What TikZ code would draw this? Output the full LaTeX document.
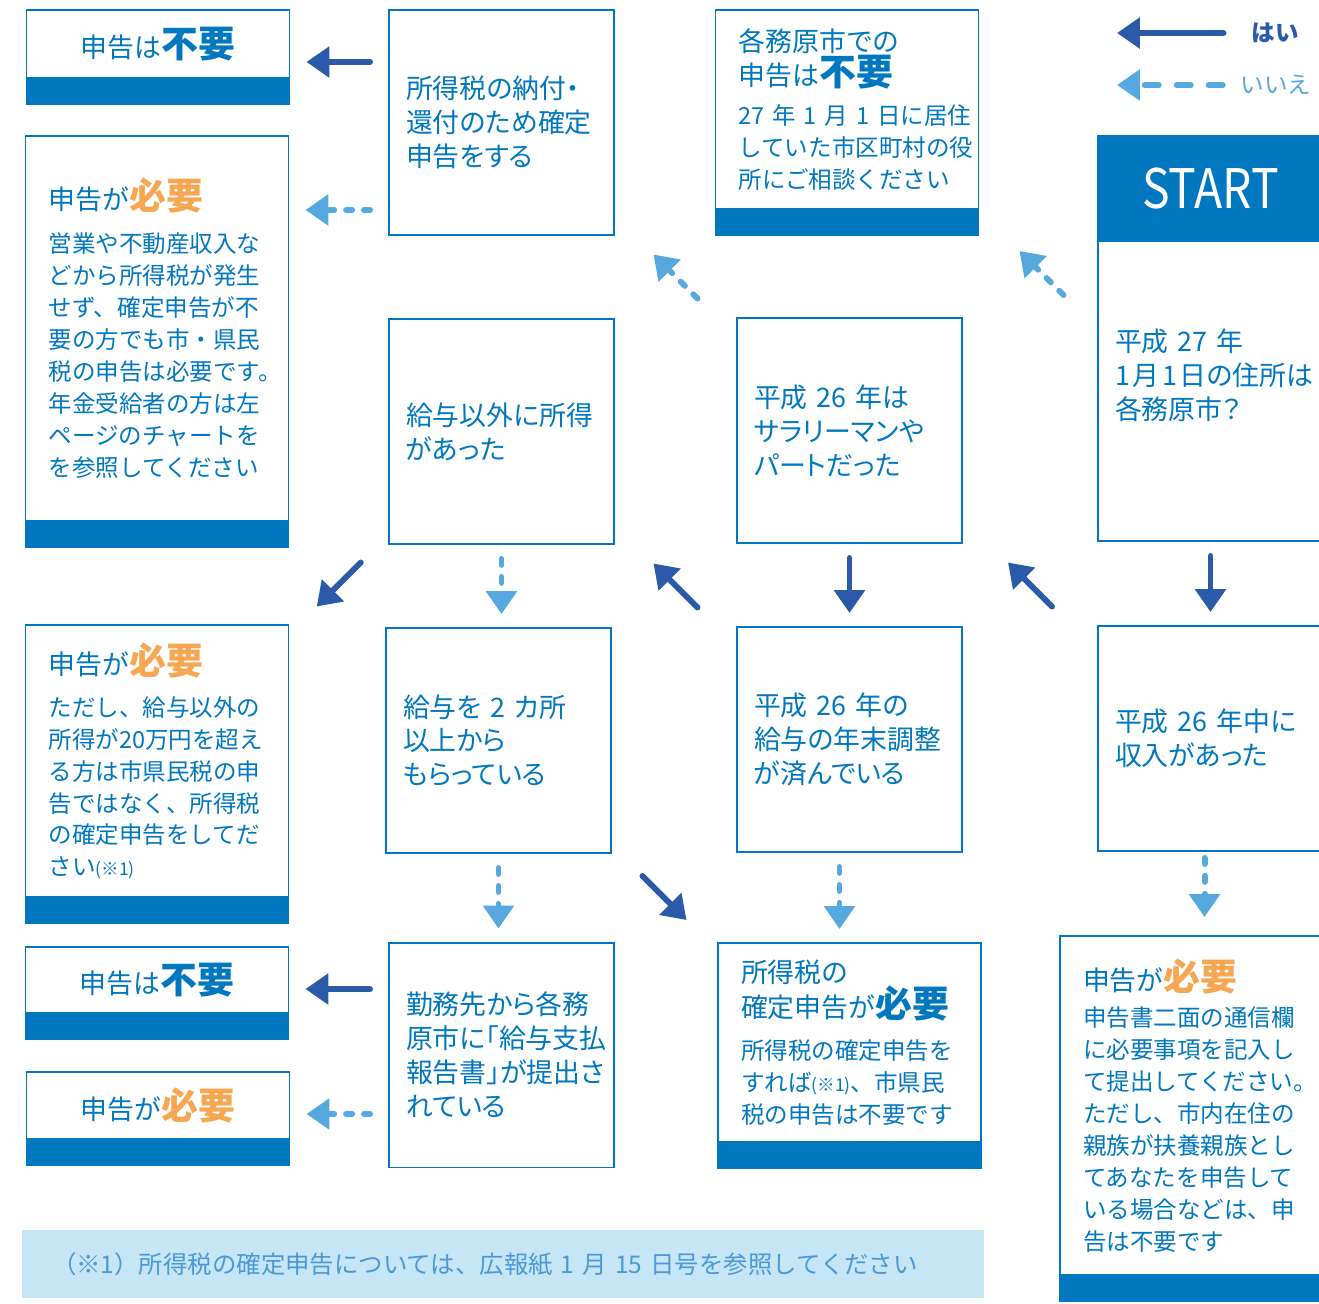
\documentclass[tikz,border=0pt]{standalone}
\usepackage{fontspec}
\setmainfont{Noto Sans CJK JP}[RawFeature=+palt]
\newfontfamily\kgfull{Noto Sans CJK JP}
\usetikzlibrary{arrows.meta,positioning,calc}
\definecolor{kgblue}{HTML}{0077BE}
\definecolor{kgnavy}{HTML}{2B5BA8}
\definecolor{kgsky}{HTML}{56A9DF}
\definecolor{kgorange}{HTML}{F7A752}
\definecolor{kgpale}{HTML}{C6E6F6}
\definecolor{kgnote}{HTML}{4A98D6}
\newcommand{\kgq}{\fontsize{15.3}{19.3}\selectfont}
\newcommand{\kgs}{\kgfull\fontsize{13.4}{18.2}\selectfont}
\newcommand{\kgh}{\kgfull\fontsize{15.3}{18.2}\selectfont}
\newcommand{\kgbig}{\kgfull\fontsize{21}{18.2}\selectfont\bfseries}
\newcommand{\kgref}{{\fontsize{10}{10}\selectfont (※1)}}

\begin{document}
\begin{tikzpicture}[
    x=0.02cm, y=-0.02cm,
    every node/.style={text=kgblue, inner sep=0pt, outer sep=0pt},
    qbox/.style={draw=kgblue, line width=1.1pt, minimum width=4.5cm,
                 minimum height=4.5cm, text width=3.82cm, inner xsep=0.34cm,
                 align=left, font=\kgq},
    res/.style={draw=kgblue, line width=1.1pt, minimum width=5.26cm,
                text width=4.34cm, inner xsep=0.46cm, align=left, font=\kgs},
    resbar/.style={fill=kgblue, draw=kgblue, line width=1.1pt,
                   minimum width=5.26cm, minimum height=0.52cm},
    yes/.style={-{Triangle[width=17pt,length=13pt]}, line width=3.4pt,
                draw=kgnavy, line cap=round},
    no/.style={-{Triangle[width=17pt,length=13pt]}, line width=3.4pt,
               draw=kgsky, line cap=round, dash pattern=on 3.4pt off 6.8pt},
    gap/.style={shorten <=0.3cm, shorten >=0.28cm}
  ]
  \useasboundingbox (0,0) rectangle (1319,1303);

  % ---- Question boxes ----
  \node[qbox] (B1) at (501.5,122.5) {所得税の納付・\\還付のため確定\\申告をする};
  \node[qbox] (B2) at (501.5,431.5) {給与以外に所得\\があった};
  \node[qbox] (B3) at (498.5,740.5) {給与を~2~カ所\\以上から\\もらっている};
  \node[qbox] (B4) at (501.5,1055) {勤務先から各務\\原市に「給与支払\\報告書」が提出さ\\れている};
  \node[qbox] (C2) at (849.5,430.5) {平成~26~年は\\サラリーマンや\\パートだった};
  \node[qbox] (C3) at (849.5,739.5) {平成~26~年の\\給与の年末調整\\が済んでいる};
  \node[qbox, minimum height=6cm] (D1) at (1210.5,391)
    {平成~27~年\\\mbox{1\hspace{1.5pt}月\hspace{1.5pt}1\hspace{1.5pt}日の住所は}\\各務原市？\\ \mbox{}};
  \node[qbox] (D2) at (1210.5,738.5) {平成~26~年中に\\収入があった};

  % ---- START ----
  \node[fill=kgblue, draw=kgblue, line width=1.1pt, minimum width=4.5cm,
        minimum height=2.1cm, text=white, font=\fontsize{31}{31}\selectfont,
        above=0pt of D1] (start) {\scalebox{0.85}[1]{START}};

  % ---- Result boxes ----
  \node[res, minimum height=1.36cm, align=center] (A1) at (158,44)
    {{\kgh 申告は}{\kgbig 不要}};
  \node[res, minimum height=7.7cm] (A2) at (157,328.5)
    {{\kgh 申告が}{\kgbig\color{kgorange}必要}\\[6.2pt]
     営業や不動産収入な\\どから所得税が発生\\せず、確定申告が不\\要の方でも市・県民\\税の申告は必要です。\\年金受給者の方は左\\ページのチャートを\\を参照してください};
  \node[res, minimum height=5.44cm] (A3) at (157,761)
    {{\kgh 申告が}{\kgbig\color{kgorange}必要}\\[5.6pt]
     ただし、給与以外の\\所得が20万円を超え\\る方は市県民税の申\\告ではなく、所得税\\の確定申告をしてだ\\さい\kgref};
  \node[res, minimum height=1.32cm, align=center] (A4) at (157,980)
    {{\kgh 申告は}{\kgbig 不要}};
  \node[res, minimum height=1.34cm, align=center] (A5) at (158,1105.5)
    {{\kgh 申告が}{\kgbig\color{kgorange}必要}};
  \node[res, minimum height=3.98cm] (C1) at (847,109.5)
    {{\kgh 各務原市での}\\{\kgh 申告は}{\kgbig 不要}\\[3.9pt]
     27~年~1~月~1~日に居住\\していた市区町村の役\\所にご相談ください};
  \node[res, minimum height=3.98cm] (C4) at (849.5,1042.5)
    {{\kgh 所得税の}\\{\kgh 確定申告が}{\kgbig 必要}\\[5.5pt]
     所得税の確定申告を\\すれば\kgref 、市県民\\税の申告は不要です};
  \node[res, minimum height=6.78cm] (D3) at (1191.5,1105.5)
    {{\kgh 申告が}{\kgbig\color{kgorange}必要}\\[2.2pt]
     申告書二面の通信欄\\に必要事項を記入し\\て提出してください。\\ただし、市内在住の\\親族が扶養親族とし\\てあなたを申告して\\いる場合などは、申\\告は不要です};
  \foreach \r in {A1,A2,A3,A4,A5,C1,C4,D3}
    \node[resbar, below=0pt of \r] (\r-bar) {};

  % ---- Legend ----
  \node[font=\kgs\bfseries, text=kgnavy] (lgYes) at (1275,33) {はい};
  \node[font=\kgs, text=kgsky] (lgNo) at (1276,85) {いいえ};
  \coordinate (lgYesTip) at (1117,33);
  \coordinate (lgNoTip) at (1117,85);
  \draw[yes, shorten <=0.56cm] (lgYes.west) -- (lgYesTip);
  \draw[no, dash pattern=on 8pt off 10.2pt, shorten <=0.36cm] (lgNo.west) -- (lgNoTip);

  % ---- Footnote ----
  \node[fill=kgpale, minimum width=19.24cm, minimum height=1.36cm,
        text width=18.04cm, inner xsep=0.6cm, align=left,
        font=\kgfull\fontsize{13.9}{18}\selectfont, text=kgnote] (note) at (503,1264)
    {（※1）所得税の確定申告については、広報紙~1~月~15~日号を参照してください};

  % ---- Horizontal arrows ----
  \draw[yes, shorten <=0.38cm, shorten >=0.34cm]
    ([yshift=-0.36cm]A1.east -| B1.west) -- ([yshift=-0.36cm]A1.east);
  \draw[no, shorten <=0.38cm, shorten >=0.34cm]
    ([yshift=0.5cm]B1.south west) -- ([yshift=0.5cm]B1.south west -| A2.east);
  \draw[yes, shorten <=0.38cm, shorten >=0.34cm]
    ([yshift=-0.18cm]A4.east -| B4.west) -- ([yshift=-0.18cm]A4.east);
  \draw[no, shorten <=0.38cm, shorten >=0.34cm]
    ([yshift=-0.17cm]A5.east -| B4.west) -- ([yshift=-0.17cm]A5.east);

  % ---- Vertical arrows ----
  \draw[yes, gap] (D1) -- (D2);
  \draw[yes, gap] (C2) -- (C3);
  \draw[no, gap] (B2.south) -- (B2.south |- B3.north);
  \draw[no, gap] (B3.south) -- (B3.south |- B4.north);
  \draw[no, gap] ([xshift=-0.2cm]C3.south) -- ([xshift=-0.2cm]C3.south |- C4.north);
  \draw[no, shorten <=0.14cm, shorten >=0.38cm]
    ([xshift=-0.12cm]D2.south) -- ([xshift=-0.12cm]D2.south |- D3.north);

  % ---- Diagonal arrows ----
  \draw[no] ($(C1-bar.south east)+(85,60)$) -- ($(C1-bar.south east)+(41,16)$);
  \draw[no] ($(C2.north west)!0.5!(B1.south east)+(22,22)$)
    -- ($(C2.north west)!0.5!(B1.south east)+(-22,-22)$);
  \draw[yes] ($(D2.north west)!0.5!(C2.south east)+(22,22)$)
    -- ($(D2.north west)!0.5!(C2.south east)+(-22,-22)$);
  \draw[yes] ($(C3.north west)!0.5!(B2.south east)+(22,22)$)
    -- ($(C3.north west)!0.5!(B2.south east)+(-22,-22)$);
  \draw[yes] ($(B2.south west)!0.5!(A3.north east)+(22,-22)$)
    -- ($(B2.south west)!0.5!(A3.north east)+(-22,22)$);
  \draw[yes] ($(B3.south east)!0.5!(C4.north west)+(-22,-22)$)
    -- ($(B3.south east)!0.5!(C4.north west)+(22,22)$);

\end{tikzpicture}
\end{document}
